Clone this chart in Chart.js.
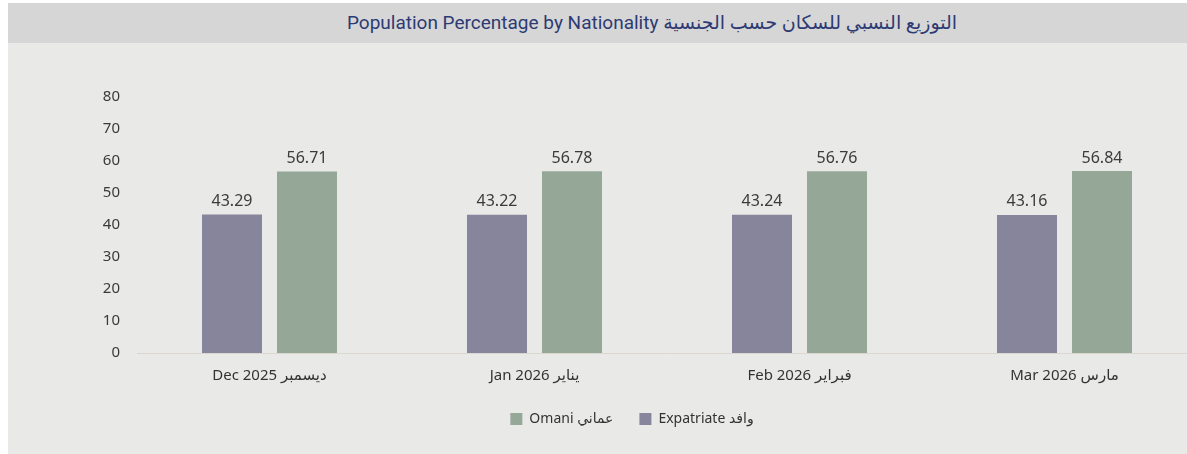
<!DOCTYPE html>
<html>
<head>
<meta charset="utf-8">
<script src="https://cdn.jsdelivr.net/npm/chart.js@4"></script>
<style>
  html, body { margin: 0; padding: 0; background: #ffffff; overflow: hidden; width: 1187px; height: 454px; }
  #panel { position: absolute; left: 8px; top: 3px; right: 0; bottom: 0; background: #e9e9e7; }
  #header { position: absolute; left: 8px; top: 3px; right: 0; height: 40px; background: #d6d6d6; }
  #title { position: absolute; left: 652px; top: 22px; transform: translate(-50%, -50%); white-space: nowrap;
           font-family: Roboto, "DejaVu Sans", sans-serif; font-size: 19px; color: #2d3a73; }
  #wrap { position: absolute; left: 0; top: 50px; width: 1200px; height: 409px; }
</style>
</head>
<body>
<div id="panel"></div>
<div id="header"></div>
<div id="title">Population Percentage by Nationality التوزيع النسبي للسكان حسب الجنسية</div>
<div id="wrap"><canvas id="chart"></canvas></div>
<script>
const months = ['Dec 2025 ديسمبر', 'Jan 2026 يناير', 'Feb 2026 فبراير', 'Mar 2026 مارس'];
const expatriate = [43.29, 43.22, 43.24, 43.16];
const omani = [56.71, 56.78, 56.76, 56.84];
const yTicks = [0, 10, 20, 30, 40, 50, 60, 70, 80];

const font = '"Noto Sans", "DejaVu Sans", sans-serif';

// value labels above the bars
const valueLabels = {
  id: 'valueLabels',
  afterDatasetsDraw(chart) {
    const ctx = chart.ctx;
    ctx.save();
    ctx.font = '16px ' + font;
    ctx.fillStyle = '#3b3b3b';
    ctx.textAlign = 'center';
    ctx.textBaseline = 'bottom';
    chart.data.datasets.forEach((ds, i) => {
      chart.getDatasetMeta(i).data.forEach((bar, j) => {
        ctx.fillText(ds.data[j].toFixed(2), bar.x, bar.y - 5);
      });
    });
    ctx.restore();
  }
};

new Chart(document.getElementById('chart').getContext('2d'), {
  type: 'bar',
  data: {
    labels: months,
    datasets: [
      { label: 'Expatriate وافد', data: expatriate, backgroundColor: '#86859b' },
      { label: 'Omani عماني', data: omani, backgroundColor: '#95a898' }
    ]
  },
  options: {
    responsive: true,
    maintainAspectRatio: false,
    animation: false,
    categoryPercentage: 0.566,
    barPercentage: 0.8,
    layout: { padding: { left: 67, right: 3, top: 47, bottom: 23 } },
    plugins: {
      legend: {
        position: 'bottom',
        reverse: true,
        labels: {
          boxWidth: 12,
          boxHeight: 12,
          padding: 26,
          color: '#333333',
          font: { family: font, size: 14 }
        }
      },
      title: { display: false },
      tooltip: { enabled: false }
    },
    scales: {
      y: {
        min: 0,
        max: 80,
        afterBuildTicks: s => { s.ticks = yTicks.map(v => ({ value: v })); },
        afterFit: s => { s.width = 70; },
        grid: { display: false, drawTicks: false },
        border: { display: false },
        ticks: { padding: 17, color: '#3a3a3a', font: { family: font, size: 15 } }
      },
      x: {
        afterFit: s => { s.height = 33; },
        grid: { display: false, drawTicks: false },
        border: { display: true, color: '#dcd6d0', width: 1 },
        ticks: { padding: 14, color: '#333333', maxRotation: 0, minRotation: 0, font: { family: font, size: 15 } }
      }
    }
  },
  plugins: [valueLabels]
});
</script>
</body>
</html>
